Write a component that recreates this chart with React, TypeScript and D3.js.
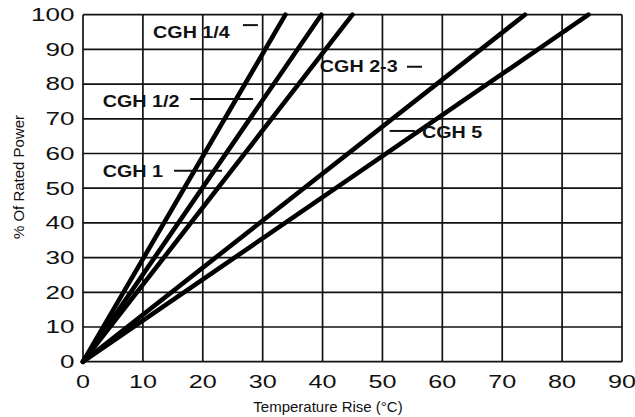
import React from "react";
import * as d3 from "d3";

// ---- data ----
const seriesNames = ["CGH 1/4", "CGH 1/2", "CGH 1", "CGH 2-3", "CGH 5"];
// each series is a straight line from origin: temperature rise (°C) at 0% and 100% power
const seriesTemp = [
  [0, 33.8],
  [0, 39.8],
  [0, 45.0],
  [0, 73.8],
  [0, 84.4],
];
const seriesPower = [0, 100];

const xTicks = [0, 10, 20, 30, 40, 50, 60, 70, 80, 90];
const yTicks = [0, 10, 20, 30, 40, 50, 60, 70, 80, 90, 100];

// annotation labels (data units): text start, baseline, and leader dash
const labelText = ["CGH 1/4", "CGH 1/2", "CGH 1", "CGH 2-3", "CGH 5"];
const labelX = [11.7, 3.3, 3.3, 39.55, 56.6];
const labelY = [93.4, 73.5, 53.3, 83.4, 64.4];
const dashX1 = [26.7, 17.9, 15.2, 54.1, 51.2];
const dashX2 = [29.2, 28.4, 23.2, 56.6, 55.4];
const dashY = [97.0, 75.7, 55.0, 85.0, 66.5];

const W = 635;
const H = 417;
const M = { left: 83, right: 13, top: 14.7, bottom: 55.3 };

export default function App() {
  const x = d3.scaleLinear().domain([0, 90]).range([M.left, W - M.right]);
  const y = d3.scaleLinear().domain([0, 100]).range([H - M.bottom, M.top]);
  const line = d3
    .line<[number, number]>()
    .x((d) => x(d[0]))
    .y((d) => y(d[1]));

  const font = "Arial, 'Liberation Sans', Helvetica, sans-serif";

  return (
    <svg
      width={W}
      height={H}
      style={{ position: "absolute", left: 0, top: 0, background: "#fff" }}
      fontFamily={font}
    >
      <rect x={0} y={0} width={W} height={H} fill="#fff" />
      {/* grid */}
      <g stroke="#111" strokeWidth={1.7} fill="none">
        {xTicks.map((t) => (
          <line key={"gx" + t} x1={x(t)} x2={x(t)} y1={y(0)} y2={y(100)} />
        ))}
        {yTicks.map((t) => (
          <line key={"gy" + t} x1={x(0)} x2={x(90)} y1={y(t)} y2={y(t)} />
        ))}
      </g>
      {/* y tick labels */}
      {yTicks.map((t) => (
        <text
          key={"ty" + t}
          transform={`translate(${x(0) - 8.5},${y(t) + 6.3}) scale(1.45,1)`}
          textAnchor="end"
          fontSize={18}
          fill="#111"
        >
          {t}
        </text>
      ))}
      {/* x tick labels */}
      {xTicks.map((t) => (
        <text
          key={"tx" + t}
          transform={`translate(${x(t)},${388}) scale(1.4,1)`}
          textAnchor="middle"
          fontSize={18}
          fill="#111"
        >
          {t}
        </text>
      ))}
      {/* axis titles */}
      <text x={328} y={412} textAnchor="middle" fontSize={15} fill="#111">
        Temperature Rise (°C)
      </text>
      <text
        transform={`translate(${24},${177}) rotate(-90)`}
        textAnchor="middle"
        fontSize={15}
        fill="#111"
      >
        % Of Rated Power
      </text>
      {/* data lines */}
      <g stroke="#000" strokeWidth={4.6} fill="none" strokeLinecap="round">
        {seriesNames.map((name, i) => (
          <path
            key={name}
            d={line(seriesTemp[i].map((t, j) => [t, seriesPower[j]]) as [number, number][]) || ""}
          />
        ))}
      </g>
      {/* annotation labels */}
      {labelText.map((s, i) => (
        <g key={s}>
          <text
            transform={`translate(${x(labelX[i])},${y(labelY[i])}) scale(1.16,1)`}
            fontSize={17}
            fontWeight="bold"
            fill="#111"
          >
            {s}
          </text>
          <line
            x1={x(dashX1[i])}
            x2={x(dashX2[i])}
            y1={y(dashY[i])}
            y2={y(dashY[i])}
            stroke="#111"
            strokeWidth={2}
          />
        </g>
      ))}
    </svg>
  );
}
